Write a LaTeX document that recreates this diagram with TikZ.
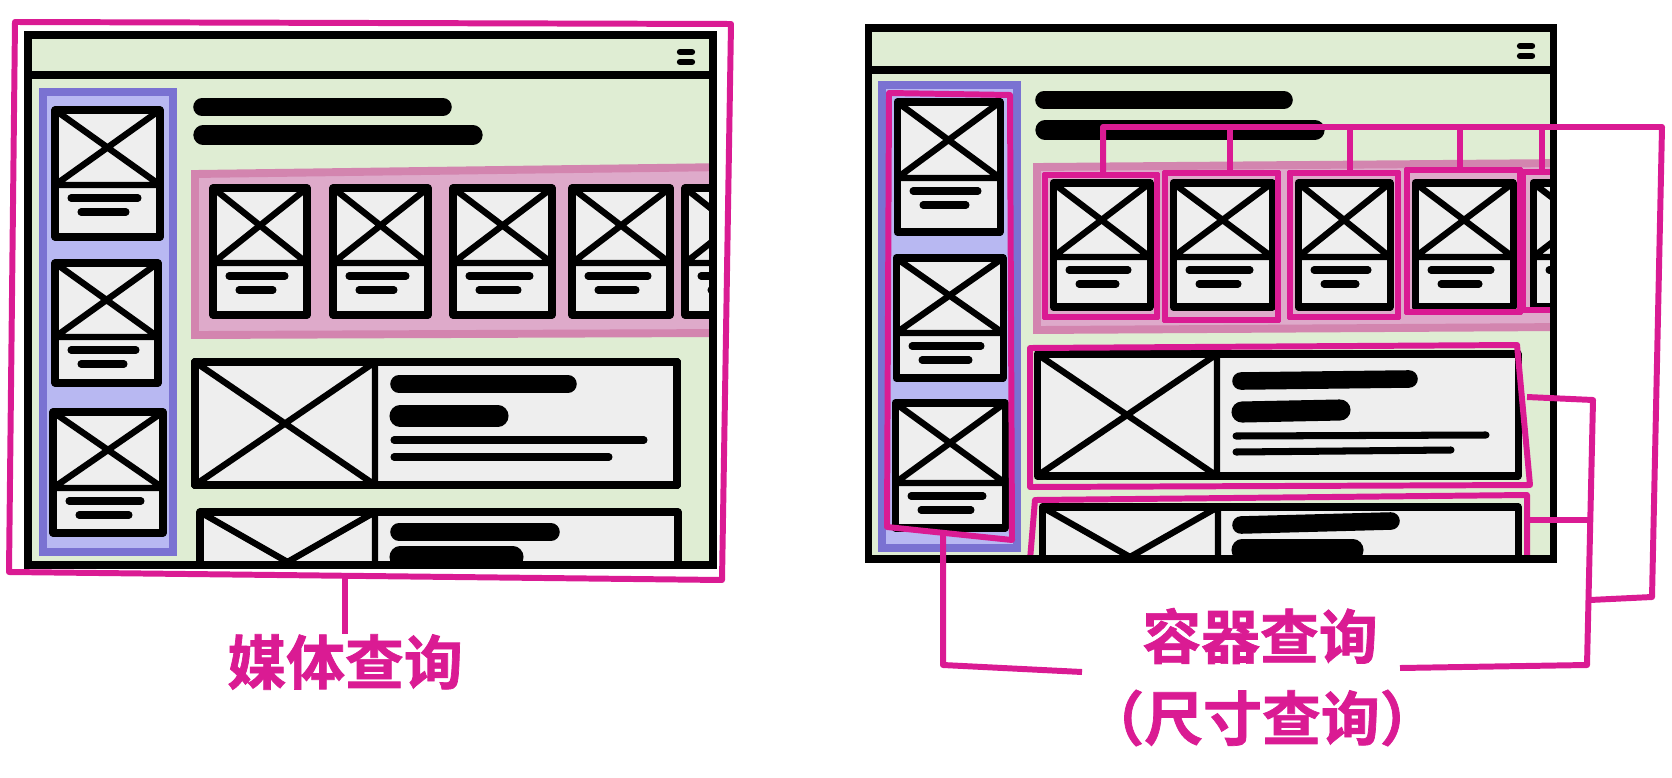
\documentclass[tikz,border=0pt]{standalone}
\usepackage{fontspec}
\newfontfamily\cjk[BoldFont={Noto Sans CJK SC Bold}, BoldFeatures={FakeBold=1.2}]{Noto Sans CJK SC}
\definecolor{qmagenta}{HTML}{DA1B93}
\definecolor{wingreen}{HTML}{DFEDD3}
\definecolor{cardgray}{HTML}{EEEEEE}
\definecolor{sidefill}{HTML}{B8B8F2}
\definecolor{sideedge}{HTML}{7A72D2}
\definecolor{bandfill}{HTML}{DEAACA}
\definecolor{bandedge}{HTML}{D385AF}
\newcommand{\wirecard}[5]{%
  \draw[card] (#1,#2) rectangle (#3,#4);
  \draw[xline] (#1,#2) -- (#3,#5) (#3,#2) -- (#1,#5) (#1,#5) -- (#3,#5);
  \draw[tline] ({#1+16},{#5+13}) -- ({#3-22},{#5+13});
  \draw[tline] ({#1+26},{#5+27}) -- ({#3-34},{#5+27});
}
\newcommand{\widecard}[5]{%
  \draw[card] (#1,#2) rectangle (#3,#4);
  \draw[xline] (#1,#2) -- (#5,#4) (#5,#2) -- (#1,#4) (#5,#2) -- (#5,#4);
}
\begin{document}
\begin{tikzpicture}[x=0.02cm, y=-0.02cm,
  win/.style={draw=black, line width=4pt},
  card/.style={draw=black, line width=4pt, fill=cardgray, line join=round},
  xline/.style={line width=3.6pt},
  tline/.style={line width=4pt, line cap=round},
  bar/.style={line width=10pt, line cap=round},
  side/.style={fill=sidefill, draw=sideedge, line width=4.5pt},
  band/.style={fill=bandfill, draw=bandedge, line width=4.5pt},
  mline/.style={draw=qmagenta, line width=3.4pt, line join=round},
  qlabel/.style={text=qmagenta, inner sep=0pt, font=\cjk\bfseries\fontsize{33.5}{40}\selectfont}]
  \useasboundingbox (0,0) rectangle (1672,777);

  \fill[wingreen] (28,35) rectangle (713,565);
  \begin{scope}
    \clip (28,35) rectangle (713,565);
    \draw[side] (43,92) rectangle (173,552);
    \wirecard{55}{110}{160}{237}{185}
    \wirecard{55}{263}{158}{383}{337}
    \wirecard{53}{412}{163}{533}{488}
    \draw[bar] (202,107) -- (443,107);
    \draw[bar, line width=11pt] (203,135) -- (473,135);
    \draw[band] (195,174) -- (730,167) -- (730,333) -- (195,335) -- cycle;
    \foreach \xa/\xb in {213/307, 333/428, 453/552, 572/670, 685/780}
      \wirecard{\xa}{188}{\xb}{315}{263}
    \widecard{195}{362}{677}{485}{375}
    \draw[bar] (399,384) -- (568,384);
    \draw[bar, line width=12pt] (400,416) -- (498,416);
    \draw[tline] (394,440) -- (644,440);
    \draw[tline] (394,457) -- (609,457);
    \widecard{200}{512}{678}{612}{375}
    \draw[bar] (399,532) -- (551,532);
    \draw[bar, line width=12pt] (400,557) -- (513,557);
  \end{scope}
  \draw[win] (28,35) rectangle (713,565);
  \draw[win] (28,75) -- (713,75);
  \draw[tline, line width=3.6pt] (680,52) -- (692,52) (680,62) -- (692,62);

  \draw[mline] (15,22) -- (731,24) -- (722,580) -- (9,572) -- cycle;
  \coordinate (mqstem) at (345,576);
  \node[qlabel] (mq) at (345,662) {媒体查询};
  \draw[mline] (mqstem) -- (mq.north);

  \fill[wingreen] (868,28) rectangle (1553,559);
  \begin{scope}
    \clip (868,28) rectangle (1553,559);
    \draw[side] (882,85) rectangle (1017,548);
    \wirecard{897}{102}{1000}{232}{178}
    \wirecard{896}{258}{1003}{378}{333}
    \wirecard{895}{403}{1005}{528}{483}
    \draw[mline] (889,93) -- (1010,95) -- (1012,540) -- (887,527) -- cycle;
    \draw[bar] (1044,100) -- (1284,100);
    \draw[bar, line width=11pt] (1045,130) -- (1315,130);
    \draw[band] (1037,167) -- (1570,163) -- (1570,327) -- (1037,330) -- cycle;
    \foreach \xa/\xb in {1053/1150, 1173/1272, 1298/1390, 1415/1513, 1533/1630}
      \wirecard{\xa}{183}{\xb}{307}{257}
    \foreach \xa/\xb/\ya/\yb in {1045/1157/175/317, 1165/1278/173/320, 1290/1398/173/317, 1407/1520/170/312, 1523/1620/172/310}
      \draw[mline] (\xa,\ya) rectangle (\xb,\yb);
    \widecard{1037}{354}{1518}{476}{1217}
    \draw[bar] (1241,381) -- (1409,379);
    \draw[bar, line width=12pt] (1242,412) -- (1340,410);
    \draw[tline] (1236,436) -- (1486,435);
    \draw[tline] (1236,452) -- (1451,450);
    \draw[mline] (1030,348) -- (1517,345) -- (1530,485) -- (1030,487) -- cycle;
    \widecard{1042}{507}{1518}{607}{1218}
    \draw[bar] (1241,525) -- (1391,521);
    \draw[bar, line width=12pt] (1242,550) -- (1353,550);
    \draw[mline] (1030,560) -- (1035,500) -- (1527,495) -- (1527,560);
  \end{scope}
  \draw[win] (868,28) rectangle (1553,559);
  \draw[win] (868,70) -- (1553,70);
  \draw[tline, line width=3.6pt] (1520,46) -- (1532,46) (1520,56) -- (1532,56);

  \draw[mline] (1103,177) -- (1103,127) -- (1662,127) -- (1652,597) -- (1590,600);
  \foreach \xt/\yt in {1230/173, 1350/173, 1460/170, 1542/172}
    \draw[mline] (\xt,127) -- (\xt,\yt);
  \draw[mline] (1527,397) -- (1593,400) -- (1587,665) -- (1400,668);
  \draw[mline] (1527,520) -- (1593,520);
  \draw[mline] (943,535) -- (943,665) -- (1082,672);
  \node[qlabel] (cq) at (1260,636) {容器查询};
  \node[qlabel] (cqsize) at (1262,718) {（尺寸查询）};
\end{tikzpicture}
\end{document}
